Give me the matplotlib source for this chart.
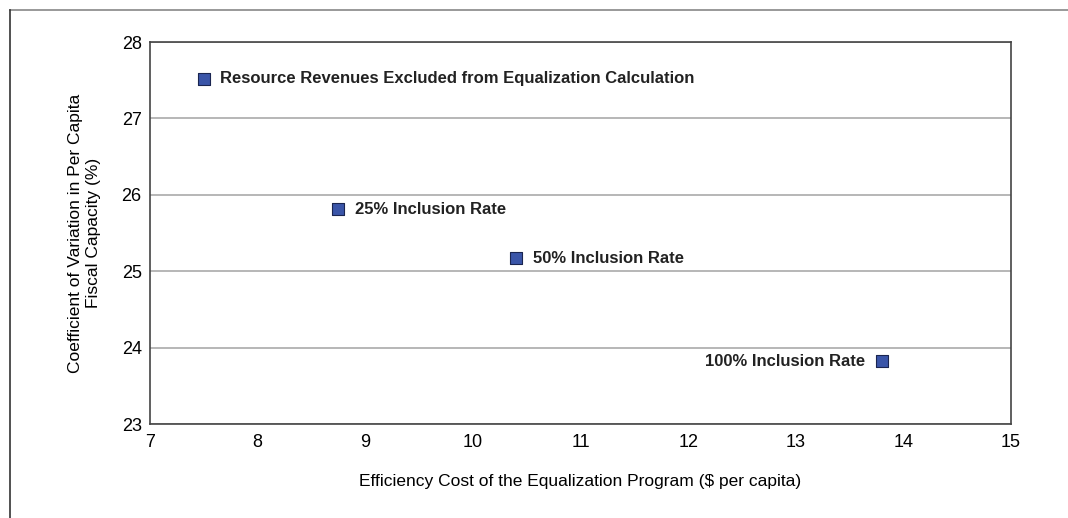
import matplotlib.pyplot as plt

# data
labels = ['Resource Revenues Excluded from Equalization Calculation',
          '25% Inclusion Rate', '50% Inclusion Rate', '100% Inclusion Rate']
cost = [7.5, 8.75, 10.4, 13.8]
cv = [27.52, 25.81, 25.17, 23.82]
label_side = ['right', 'right', 'right', 'left']

plt.rcParams['font.family'] = ['Liberation Sans', 'DejaVu Sans']

fig = plt.figure(figsize=(10.68, 5.18), dpi=100)
ax = fig.add_axes([150 / 1068, 1 - 424 / 518, 861 / 1068, 382 / 518])

ax.scatter(cost, cv, marker='s', s=75, color='#3a55a8', edgecolors='#1a2550',
           linewidths=0.8, zorder=3)

for x, y, lab, side in zip(cost, cv, labels, label_side):
    if side == 'right':
        ax.annotate(lab, (x, y), xytext=(12, 0), textcoords='offset points',
                    ha='left', va='center', fontsize=12, fontweight='bold',
                    color='#222222')
    else:
        ax.annotate(lab, (x, y), xytext=(-12, 0), textcoords='offset points',
                    ha='right', va='center', fontsize=12, fontweight='bold',
                    color='#222222')

ax.set_xlim(7, 15)
ax.set_ylim(23, 28)
ax.set_xticks(range(7, 16))
ax.set_yticks(range(23, 29))
ax.tick_params(length=0, labelsize=13)
ax.tick_params(axis='x', pad=7)
ax.tick_params(axis='y', pad=6)
ax.yaxis.grid(True, color='#aaaaaa', linewidth=1.2)
ax.set_axisbelow(True)
for sp in ax.spines.values():
    sp.set_color('#444444')
    sp.set_linewidth(1.2)

ax.set_xlabel('Efficiency Cost of the Equalization Program ($ per capita)',
              fontsize=12.5, labelpad=17)
ax.set_ylabel('Coefficient of Variation in Per Capita\nFiscal Capacity (%)',
              fontsize=12.5, labelpad=15)

# outer frame: top and left edges only
fig.add_artist(plt.Line2D([10 / 1068, 1], [1 - 10 / 518, 1 - 10 / 518],
                          color='#888888', linewidth=1.2, transform=fig.transFigure))
fig.add_artist(plt.Line2D([10 / 1068, 10 / 1068], [0, 1 - 10 / 518],
                          color='#333333', linewidth=1.2, transform=fig.transFigure))

fig.savefig('out.png', dpi=100)
